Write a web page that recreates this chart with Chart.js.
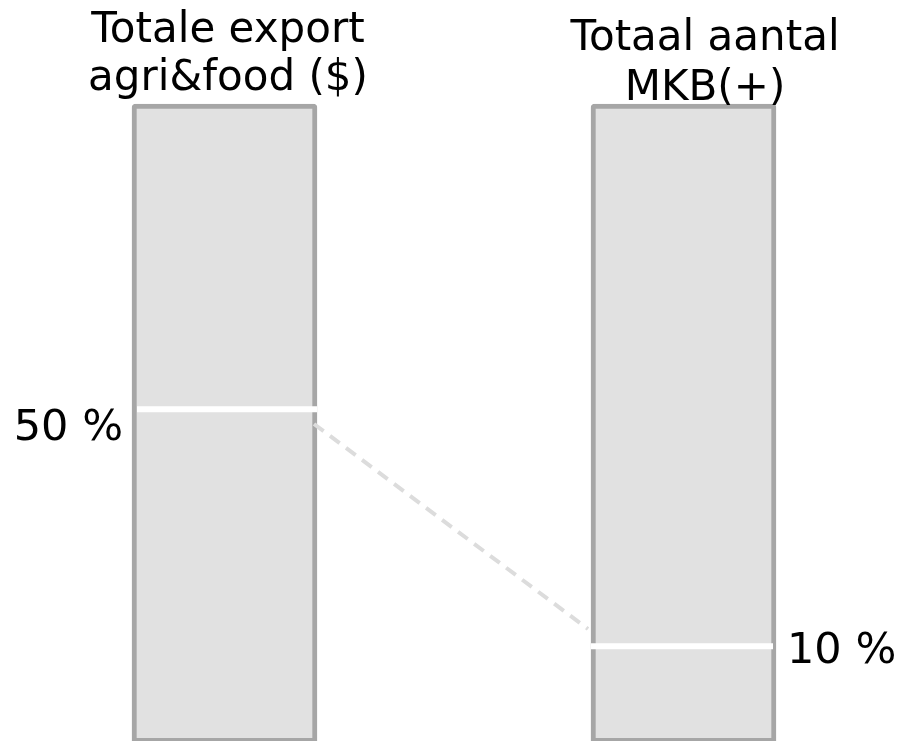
<!DOCTYPE html>
<html>
<head>
<meta charset="utf-8">
<script src="https://cdn.jsdelivr.net/npm/chart.js@4.4.1/dist/chart.umd.min.js"></script>
<style>
  html, body { margin: 0; padding: 0; background: #fff; }
  #wrap { width: 897px; height: 741px; position: relative; }
</style>
</head>
<body>
<div id="wrap"><canvas id="chart"></canvas></div>
<script>
// two columns, each a full-height box with a marker for its share
const categories    = [['Totale export', 'agri&food ($)'], ['Totaal aantal', 'MKB(+)']]
const barRanges     = [[-6.3, 101.5], [-6.3, 101.5]]
const shareValues   = [50, 10]
const connectorEnds = [47.5, 12.9]   // where the dashed link meets each column
const shareLabels   = shareValues.map(v => `${v} %`)

const FONT = '"DejaVu Sans", Verdana, sans-serif'

const overlay = {
  id: 'overlay',
  afterDatasetsDraw(chart) {
    const { ctx, scales: { y } } = chart
    const bars = chart.getDatasetMeta(0).data
    ctx.save()

    // white share markers
    ctx.strokeStyle = '#ffffff'
    ctx.lineWidth = 6
    bars.forEach((b, i) => {
      const py = y.getPixelForValue(shareValues[i])
      const inset = i === 0 ? 5 : 0
      ctx.beginPath()
      ctx.moveTo(b.x - b.width / 2 + inset, py)
      ctx.lineTo(b.x + b.width / 2 - (i === 1 ? 3 : 0), py)
      ctx.stroke()
    })

    // dashed connector between the columns
    ctx.strokeStyle = '#dcdcdc'
    ctx.lineWidth = 4
    ctx.setLineDash([12, 8])
    ctx.beginPath()
    ctx.moveTo(bars[0].x + bars[0].width / 2 - 3, y.getPixelForValue(connectorEnds[0]))
    ctx.lineTo(bars[1].x - bars[1].width / 2 - 3, y.getPixelForValue(connectorEnds[1]))
    ctx.stroke()
    ctx.setLineDash([])

    // share labels
    ctx.fillStyle = '#000'
    ctx.font = `43px ${FONT}`
    ctx.textBaseline = 'alphabetic'
    ctx.textAlign = 'right'
    ctx.fillText(shareLabels[0], bars[0].x - bars[0].width / 2 - 9, y.getPixelForValue(shareValues[0]) + 31)
    ctx.textAlign = 'left'
    ctx.fillText(shareLabels[1], bars[1].x + bars[1].width / 2 + 11, y.getPixelForValue(shareValues[1]) + 17)

    // column titles
    const shift = [3.5, 21.5]
    const firstBaseline = [42, 50]
    const lineGap = [48, 50]
    ctx.font = `42px ${FONT}`
    ctx.textAlign = 'center'
    bars.forEach((b, i) => {
      categories[i].forEach((line, j) => {
        ctx.fillText(line, b.x + shift[i], firstBaseline[i] + j * lineGap[i])
      })
    })
    ctx.restore()
  }
}

new Chart(document.getElementById('chart'), {
  type: 'bar',
  data: {
    labels: categories.map(c => c.join(' ')),
    datasets: [{
      data: barRanges,
      backgroundColor: '#e1e1e1',
      borderColor: '#a6a6a6',
      borderWidth: 5,
      borderSkipped: false,
      borderRadius: { topLeft: 4, topRight: 4, bottomLeft: 0, bottomRight: 0 },
      barThickness: 185,
      clip: false
    }]
  },
  options: {
    responsive: true,
    maintainAspectRatio: false,
    animation: false,
    devicePixelRatio: 1,
    layout: { padding: { left: 224.5, right: 213.5, top: 104, bottom: 0 } },
    plugins: { legend: { display: false }, tooltip: { enabled: false } },
    scales: {
      x: { type: 'category', offset: false, display: false },
      y: { min: -6, max: 101.5, display: false }
    }
  },
  plugins: [overlay]
})
</script>
</body>
</html>
